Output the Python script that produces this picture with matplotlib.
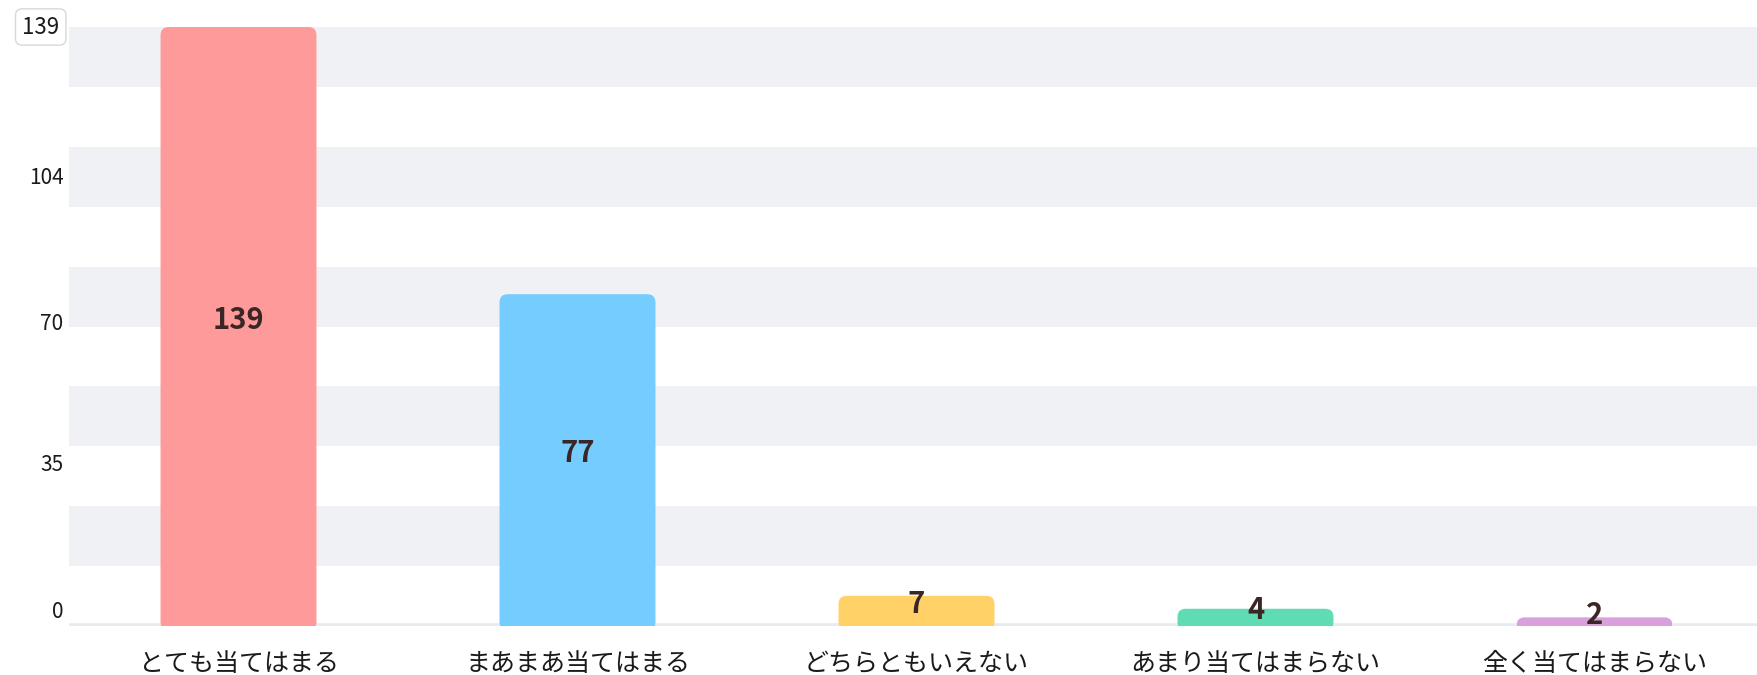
import matplotlib
matplotlib.use("Agg")
import matplotlib.pyplot as plt
from matplotlib.patches import FancyBboxPatch, Rectangle

plt.rcParams['font.family'] = ['Noto Sans CJK JP', 'DejaVu Sans']

categories = ['とても当てはまる', 'まあまあ当てはまる', 'どちらともいえない',
              'あまり当てはまらない', '全く当てはまらない']
counts = [139, 77, 7, 4, 2]
colors = ['#ff9a9a', '#75cdff', '#ffd166', '#5fdcb3', '#d8a0dc']
ytick_vals = [0, 35, 70, 104, 139]
ymax = 139


def main():
    W, H = 1758, 675
    fig = plt.figure(figsize=(W / 100, H / 100), dpi=100)
    # 0 sits at pixel row 626, 139 at row 27; one category is 339 px wide
    ax = fig.add_axes([69 / W, (H - 626) / H, 1695 / W, (626 - 27) / H])
    ax.set_xlim(-0.5, len(categories) - 0.5)
    ax.set_ylim(0, ymax)

    # alternating background bands (10 bands over the range)
    step = ymax / 10
    for i in range(1, 10, 2):
        ax.axhspan(i * step, (i + 1) * step, color='#f0f1f4', lw=0, zorder=0)
    ax.axhline(0, color='#e8eaee', lw=4, zorder=1)

    # bars with rounded top corners
    width = 0.46
    rad_x = 0.024
    px_per_x = 339.0
    px_per_y = 599.0 / ymax
    aspect = (rad_x * px_per_x / px_per_y) / rad_x
    for i, (v, c) in enumerate(zip(counts, colors)):
        x0 = i - width / 2
        ax.add_patch(FancyBboxPatch((x0, -1.0), width, v + 1.0,
                                    boxstyle=f"round,pad=0,rounding_size={rad_x}",
                                    mutation_aspect=aspect, fc=c, ec='none', zorder=2))
        ax.add_patch(Rectangle((x0, -1.0), width, v / 2 + 1.0,
                               fc=c, ec='none', zorder=2))
        ax.annotate(str(v), (i, v / 2), xytext=(0, 5), textcoords='offset points',
                    ha='center', va='center', fontsize=21,
                    fontweight='bold', color='#3b2626', zorder=3)

    ax.set_xticks(range(len(categories)))
    ax.set_xticklabels(categories, fontsize=18, color='#1a1a1a')
    ax.tick_params(axis='x', length=0, pad=18)

    # y labels as plain texts (the lower ones sit a little above their level)
    ax.set_yticks([])
    nudges = {0: 10, 35: 7}
    for v in ytick_vals:
        if v == ymax:
            t = ax.annotate(str(v), (0, v), xycoords=('axes fraction', 'data'),
                            xytext=(-7, 0), textcoords='offset points',
                            ha='right', va='center', fontsize=16, color='#1a1a1a')
            t.set_bbox(dict(boxstyle='round,pad=0.3', fc='white', ec='#d8d8d8', lw=1))
        else:
            ax.annotate(str(v), (0, v), xycoords=('axes fraction', 'data'),
                        xytext=(-4, nudges.get(v, 0)), textcoords='offset points',
                        ha='right', va='center', fontsize=15, color='#1a1a1a')

    for s in ax.spines.values():
        s.set_visible(False)

    fig.savefig('out.png', dpi=100)


if __name__ == "__main__":
    main()
